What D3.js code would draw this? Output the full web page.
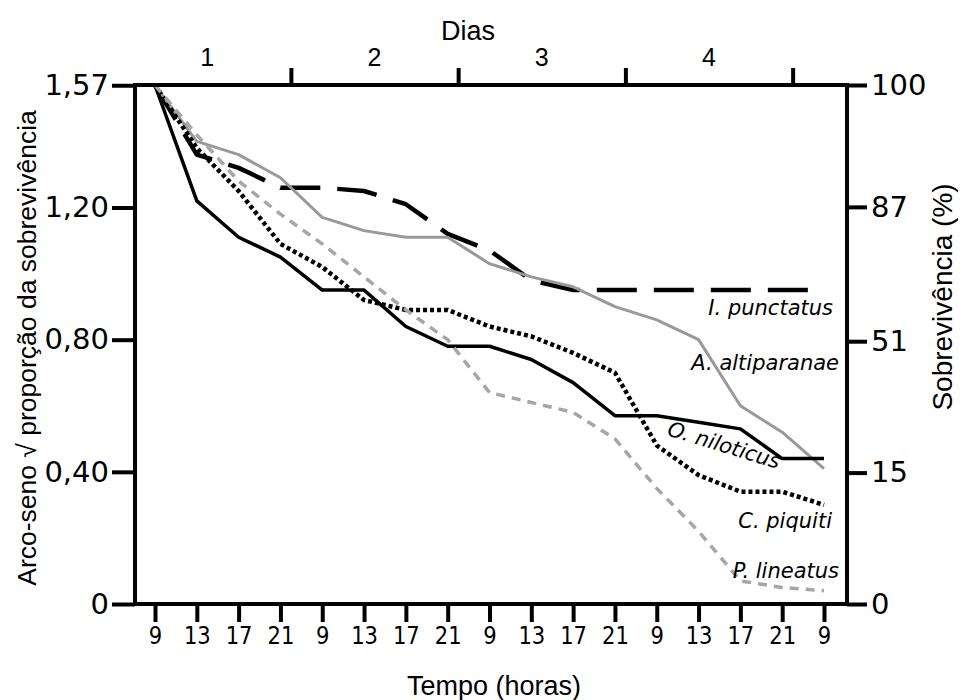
<!DOCTYPE html>
<html>
<head>
<meta charset="utf-8">
<script src="https://cdn.jsdelivr.net/npm/d3@7"></script>
<style>
    body { margin: 0; background: #fff; }
    text { fill: #000; }
</style>
</head>
<body>
<svg id="canvas" width="964" height="700"></svg>
<script>
// horas do eixo x (uma a cada 4 h, 9 -> 9 do dia seguinte)
const horas = ['9', '13', '17', '21', '9', '13', '17', '21', '9', '13', '17', '21', '9', '13', '17', '21', '9']
const dias = ['1', '2', '3', '4']

// arco-seno da raiz da proporção de sobreviventes, por especie
const punctatus = [1.57, 1.36, 1.32, 1.26, 1.26, 1.25, 1.21, 1.12, 1.07, 0.98, 0.95, 0.95, 0.95, 0.95, 0.95, 0.95, 0.95]
const altiparanae = [1.57, 1.40, 1.36, 1.29, 1.17, 1.13, 1.11, 1.11, 1.03, 0.99, 0.96, 0.90, 0.86, 0.80, 0.60, 0.52, 0.41]
const niloticus = [1.57, 1.22, 1.11, 1.05, 0.95, 0.95, 0.84, 0.78, 0.78, 0.74, 0.67, 0.57, 0.57, 0.55, 0.53, 0.44, 0.44]
const piquiti = [1.57, 1.38, 1.25, 1.09, 1.02, 0.92, 0.89, 0.89, 0.84, 0.81, 0.76, 0.70, 0.48, 0.39, 0.34, 0.34, 0.30]
const lineatus = [1.57, 1.42, 1.28, 1.18, 1.09, 0.99, 0.89, 0.80, 0.64, 0.61, 0.58, 0.50, 0.35, 0.22, 0.07, 0.05, 0.04]

const yTicks = [0, 0.40, 0.80, 1.20, 1.57]
const yLabels = ['0', '0,40', '0,80', '1,20', '1,57']
const pctTicks = [0, 15, 51, 87, 100]

let canvas = d3.select('#canvas')

let mLeft = 135, mRight = 847, mTop = 85, mBottom = 604

let xScale = d3.scaleLinear().domain([0, 16]).range([155, 824])
let yScale = d3.scaleLinear().domain([0, Math.PI / 2]).range([mBottom, mTop])

let series = [
    {nome: 'I. punctatus', valores: punctatus, cor: '#000', largura: 4.5, traco: '40,17'},
    {nome: 'A. altiparanae', valores: altiparanae, cor: '#999', largura: 3, traco: null},
    {nome: 'O. niloticus', valores: niloticus, cor: '#000', largura: 3.5, traco: null},
    {nome: 'C. piquiti', valores: piquiti, cor: '#000', largura: 4.5, traco: '4,3'},
    {nome: 'P. lineatus', valores: lineatus, cor: '#a6a6a6', largura: 3.5, traco: '9,7'}
]

let line = d3.line()
    .x((d, i) => xScale(i))
    .y((d) => yScale(d))

canvas.selectAll('path.serie')
    .data(series)
    .enter()
    .append('path')
    .attr('class', 'serie')
    .attr('d', (s) => line(s.valores))
    .attr('fill', 'none')
    .attr('stroke', (s) => s.cor)
    .attr('stroke-width', (s) => s.largura)
    .attr('stroke-dasharray', (s) => s.traco)
    .attr('stroke-linejoin', 'round')

// eixo esquerdo
let yAxis = d3.axisLeft(yScale)
    .tickValues(yTicks)
    .tickFormat((d, i) => yLabels[i])
    .tickSize(23)
    .tickPadding(3)
canvas.append('g')
    .attr('transform', `translate(${mLeft},0)`)
    .call(yAxis)
    .call((g) => g.select('.domain').remove())

// eixo direito (% de sobrevivencia)
let yAxisRight = d3.axisRight(yScale)
    .tickValues(pctTicks.map((p) => Math.asin(Math.sqrt(p / 100))))
    .tickFormat((d, i) => pctTicks[i])
    .tickSize(20)
    .tickPadding(4)
canvas.append('g')
    .attr('transform', `translate(${mRight},0)`)
    .call(yAxisRight)
    .call((g) => g.select('.domain').remove())

// eixo de baixo (horas)
let xAxis = d3.axisBottom(xScale)
    .tickValues(d3.range(horas.length))
    .tickFormat((d) => horas[d])
    .tickSize(18)
    .tickPadding(5)
canvas.append('g')
    .attr('class', 'horas')
    .attr('transform', `translate(0,${mBottom})`)
    .call(xAxis)
    .call((g) => g.select('.domain').remove())

// eixo de cima (dias), quebras a meia-noite
let xAxisTop = d3.axisTop(xScale)
    .tickValues([3.25, 7.25, 11.25, 15.25])
    .tickFormat('')
    .tickSize(17)
canvas.append('g')
    .attr('transform', `translate(0,${mTop})`)
    .call(xAxisTop)
    .call((g) => g.select('.domain').remove())

canvas.selectAll('.tick line')
    .attr('stroke', '#000')
    .attr('stroke-width', 4)

canvas.selectAll('.tick text')
    .attr('font-family', 'DejaVu Sans, Verdana, sans-serif')
    .attr('font-size', 29)
    .attr('fill', '#000')

// numeros das horas sao mais estreitos
canvas.selectAll('.horas .tick text')
    .attr('font-size', 24)
    .attr('transform', 'scale(0.88,1)')

canvas.selectAll('text.dia')
    .data(dias)
    .enter()
    .append('text')
    .attr('class', 'dia')
    .attr('x', (d, i) => xScale(1.25 + 4 * i))
    .attr('y', 66)
    .attr('text-anchor', 'middle')
    .attr('font-family', 'Liberation Sans, Arial, sans-serif')
    .attr('font-size', 25)
    .text((d) => d)

// moldura
canvas.append('rect')
    .attr('x', mLeft)
    .attr('y', mTop)
    .attr('width', mRight - mLeft)
    .attr('height', mBottom - mTop)
    .attr('fill', 'none')
    .attr('stroke', '#000')
    .attr('stroke-width', 4)

// titulos
let titulo = (txt, x, y, rot, tam) => {
    canvas.append('text')
        .attr('transform', `translate(${x},${y}) rotate(${rot})`)
        .attr('text-anchor', 'middle')
        .attr('font-family', 'Liberation Sans, Arial, sans-serif')
        .attr('font-size', tam)
        .text(txt)
}
titulo('Dias', 468, 40, 0, 27)
titulo('Tempo (horas)', 494, 695, 0, 27)
titulo('Arco-seno \u221A proporção da sobrevivência', 36, 348, -90, 26.5)
titulo('Sobrevivência (%)', 952, 297, -90, 28)

// nomes das especies
let nomes = [
    {txt: 'I. punctatus', x: 833, y: 315, rot: 0},
    {txt: 'A. altiparanae', x: 839, y: 370, rot: 0},
    {txt: 'O. niloticus', x: 722, y: 452, rot: 17},
    {txt: 'C. piquiti', x: 832, y: 528, rot: 0},
    {txt: 'P. lineatus', x: 839, y: 578, rot: 0}
]
canvas.selectAll('text.nome')
    .data(nomes)
    .enter()
    .append('text')
    .attr('class', 'nome')
    .attr('transform', (d) => `translate(${d.x},${d.y}) rotate(${d.rot})`)
    .attr('text-anchor', (d) => d.rot ? 'middle' : 'end')
    .attr('font-family', 'DejaVu Sans, Verdana, sans-serif')
    .attr('font-style', 'italic')
    .attr('font-size', 21)
    .text((d) => d.txt)
</script>
</body>
</html>
